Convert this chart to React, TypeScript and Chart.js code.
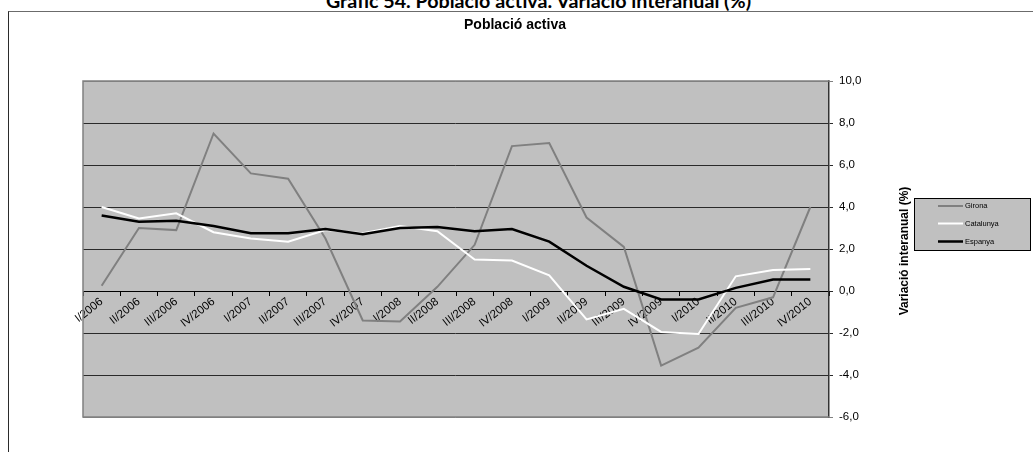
import React, { useEffect, useRef } from 'react';
import { Chart, registerables } from 'chart.js';

Chart.register(...registerables);

const mainTitle = 'Gràfic 54. Població activa. Variació interanual (%)';
const chartTitle = 'Població activa';
const yAxisTitle = 'Variació interanual (%)';

const categories = [
  'I/2006', 'II/2006', 'III/2006', 'IV/2006',
  'I/2007', 'II/2007', 'III/2007', 'IV/2007',
  'I/2008', 'II/2008', 'III/2008', 'IV/2008',
  'I/2009', 'II/2009', 'III/2009', 'IV/2009',
  'I/2010', 'II/2010', 'III/2010', 'IV/2010',
];

const seriesNames = ['Girona', 'Catalunya', 'Espanya'];

const gironaValues = [0.25, 3.0, 2.9, 7.5, 5.6, 5.35, 2.5, -1.4, -1.45, 0.2, 2.2, 6.9, 7.05, 3.5, 2.1, -3.55, -2.7, -0.8, -0.3, 4.0];
const catalunyaValues = [4.0, 3.45, 3.7, 2.8, 2.5, 2.35, 2.9, 2.75, 3.1, 2.85, 1.5, 1.45, 0.75, -1.35, -0.85, -1.95, -2.05, 0.7, 1.0, 1.05];
const espanyaValues = [3.6, 3.3, 3.35, 3.1, 2.75, 2.75, 2.95, 2.7, 3.0, 3.05, 2.85, 2.95, 2.35, 1.2, 0.2, -0.4, -0.4, 0.15, 0.55, 0.55];

const yMin = -6;
const yMax = 10;
const yStep = 2;

const FONT = "'Liberation Sans', Arial, sans-serif";

const plotBackground = {
  id: 'plotBackground',
  beforeDraw(chart: any) {
    const { ctx, chartArea: a } = chart;
    ctx.save();
    ctx.fillStyle = '#C0C0C0';
    ctx.fillRect(a.left, a.top, a.right - a.left, a.bottom - a.top);
    ctx.restore();
  },
  beforeDatasetsDraw(chart: any) {
    const { ctx, chartArea: a } = chart;
    ctx.save();
    ctx.strokeStyle = '#808080';
    ctx.lineWidth = 1.5;
    ctx.beginPath();
    ctx.moveTo(a.right, a.top);
    ctx.lineTo(a.left, a.top);
    ctx.lineTo(a.left, a.bottom);
    ctx.lineTo(a.right, a.bottom);
    ctx.stroke();
    ctx.restore();
  },
};

const sideDecor = {
  id: 'sideDecor',
  afterDraw(chart: any) {
    const { ctx, chartArea: a } = chart;
    // axis title
    ctx.save();
    ctx.translate(a.right + 76, (a.top + a.bottom) / 2 + 2);
    ctx.rotate(-Math.PI / 2);
    ctx.font = `bold 12px ${FONT}`;
    ctx.fillStyle = '#000';
    ctx.textAlign = 'center';
    ctx.textBaseline = 'middle';
    ctx.fillText(yAxisTitle, 0, 0);
    ctx.restore();

    // legend
    const bx = a.right + 85;
    const by = a.top + 117;
    const bw = 116;
    const bh = 52;
    ctx.save();
    ctx.fillStyle = '#C0C0C0';
    ctx.fillRect(bx, by, bw, bh);
    ctx.strokeStyle = '#000';
    ctx.lineWidth = 1;
    ctx.strokeRect(bx + 0.5, by + 0.5, bw, bh);
    const rows = [8, 25.5, 43.5];
    chart.data.datasets.forEach((ds: any, i: number) => {
      const y = by + rows[i];
      ctx.strokeStyle = ds.borderColor;
      ctx.lineWidth = ds.borderWidth;
      ctx.beginPath();
      ctx.moveTo(bx + 24, y);
      ctx.lineTo(bx + 49, y);
      ctx.stroke();
      ctx.fillStyle = '#000';
      ctx.font = `7.5px ${FONT}`;
      ctx.textAlign = 'left';
      ctx.textBaseline = 'middle';
      ctx.fillText(ds.label, bx + 51, y);
    });
    ctx.restore();
  },
};

export default function App() {
  const canvasRef = useRef<HTMLCanvasElement | null>(null);

  useEffect(() => {
    if (!canvasRef.current) return;
    const chart = new Chart(canvasRef.current, {
      type: 'line',
      data: {
        labels: categories,
        datasets: [
          {
            label: seriesNames[0],
            data: gironaValues,
            borderColor: '#808080',
            borderWidth: 2,
            pointRadius: 0,
            tension: 0,
            fill: false,
            order: 3,
          },
          {
            label: seriesNames[1],
            data: catalunyaValues,
            borderColor: '#FFFFFF',
            borderWidth: 2,
            pointRadius: 0,
            tension: 0,
            fill: false,
            order: 2,
          },
          {
            label: seriesNames[2],
            data: espanyaValues,
            borderColor: '#000000',
            borderWidth: 2.5,
            pointRadius: 0,
            tension: 0,
            fill: false,
            order: 1,
          },
        ],
      },
      options: {
        responsive: false,
        animation: false,
        layout: { padding: { left: 83, right: 86, top: 0, bottom: 35 } },
        plugins: {
          legend: { display: false },
          tooltip: { enabled: false },
          title: {
            display: true,
            text: chartTitle,
            color: '#000',
            font: { family: FONT, size: 14, weight: 'bold' },
            padding: { top: 17, bottom: 47.2 },
          },
        },
        scales: {
          x: {
            type: 'category',
            position: { y: 0 } as any,
            offset: true,
            grid: {
              offset: true,
              drawOnChartArea: false,
              drawTicks: true,
              tickLength: 4,
              color: '#000',
            },
            border: { display: true, color: '#000', width: 1 },
            ticks: {
              autoSkip: false,
              minRotation: 38,
              maxRotation: 38,
              padding: 0,
              color: '#000',
              font: { family: FONT, size: 11.5 },
            },
          },
          y: {
            position: 'right',
            min: yMin,
            max: yMax,
            ticks: {
              stepSize: yStep,
              padding: 6,
              color: '#000',
              font: { family: FONT, size: 11.5 },
              callback: (v: any) => Number(v).toFixed(1).replace('.', ','),
            },
            grid: {
              color: (c: any) =>
                c.tick && (c.tick.value === yMax || c.tick.value === yMin) ? '#808080' : '#2a2a2a',
              lineWidth: 1,
              drawTicks: true,
              tickLength: 4,
            },
            border: { display: true, color: '#333', width: 1.5 },
            afterFit: (s: any) => {
              s.width = 118;
            },
          },
        },
      },
      plugins: [plotBackground, sideDecor],
    });
    return () => chart.destroy();
  }, []);

  return (
    <div
      style={{
        position: 'fixed',
        left: 0,
        top: 0,
        width: 1033,
        height: 452,
        overflow: 'hidden',
        background: '#fff',
      }}
    >
      <div
        style={{
          position: 'absolute',
          left: 0,
          width: 1077,
          top: -9.5,
          textAlign: 'center',
          fontFamily: 'Lato, sans-serif',
          fontWeight: 'bold',
          fontSize: 19.7,
          lineHeight: '19.7px',
          whiteSpace: 'nowrap',
          color: '#000',
        }}
      >
        {mainTitle}
      </div>
      <div
        style={{
          position: 'absolute',
          left: 8,
          top: 11,
          width: 1200,
          height: 600,
          borderTop: '1px solid #6b6b6b',
          borderLeft: '1px solid #2b2b2b',
        }}
      />
      <canvas
        ref={canvasRef}
        width={1033}
        height={452}
        style={{ position: 'absolute', left: 0, top: 0, width: 1033, height: 452 }}
      />
    </div>
  );
}
